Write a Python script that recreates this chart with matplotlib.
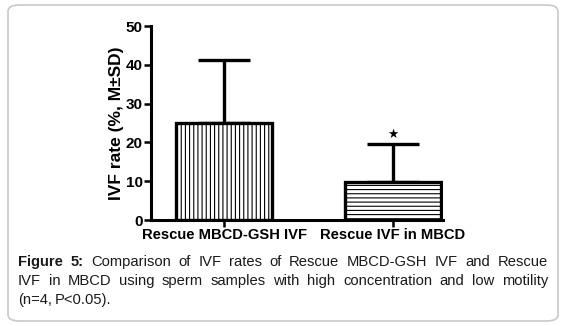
import matplotlib
matplotlib.use("Agg")
import matplotlib.pyplot as plt
from matplotlib.patches import FancyBboxPatch

##############
 # Data
##############

groups = ["Rescue MBCD-GSH IVF", "Rescue IVF in MBCD"]
ivf_rate = [25.0, 9.8]
ivf_sd = [16.2, 9.8]
hatches = ["||||", "----"]
y_ticks = [0, 10, 20, 30, 40, 50]

caption_lines = [
    [("Figure 5:", "bold"), ("Comparison of IVF rates of Rescue MBCD-GSH IVF and Rescue", "normal")],
    [("IVF in MBCD using sperm samples with high concentration and low motility", "normal")],
    [("(n=4, P<0.05).", "normal")],
]

##############
 # Figure
##############

plt.rcParams['font.family'] = ['Liberation Sans', 'DejaVu Sans']
plt.rcParams['hatch.linewidth'] = 0.8

W, H = 566, 326
fig = plt.figure(figsize=(W / 100, H / 100), dpi=100)

# rounded frame around figure + caption
frame = FancyBboxPatch((8 / W, 5 / H), 550 / W, 316 / H,
                       boxstyle="round,pad=0,rounding_size=0.02",
                       transform=fig.transFigure, facecolor='none',
                       edgecolor='#c8c8c8', linewidth=1.2, zorder=-1)
fig.patches.append(frame)

ax = fig.add_axes([151 / W, 1 - 220 / H, (443 - 151) / W, (220 - 26) / H])
ax.patch.set_alpha(0)

x = range(len(groups))
for xi, v, h in zip(x, ivf_rate, hatches):
    ax.bar(xi, v, width=0.57, color='white', edgecolor='black',
           linewidth=2.4, hatch=h, zorder=3)

ax.errorbar(list(x), ivf_rate, yerr=[[0] * len(ivf_sd), ivf_sd], fmt='none',
            ecolor='black', elinewidth=2.4, capsize=19, capthick=2.4, zorder=2)

# significance star
ax.annotate("\u2605", (1, ivf_rate[1] + ivf_sd[1]), xytext=(0, 2.5),
            textcoords='offset points', ha='center', va='bottom',
            fontsize=9, family='DejaVu Sans')

ax.set_xlim(-0.432, 1.296)
ax.set_ylim(0, 50)
ax.set_yticks(y_ticks)
ax.set_xticks(list(x))
ax.set_xticklabels(groups, fontweight='bold', fontsize=10.6)
for lab in ax.get_yticklabels():
    lab.set_fontweight('bold')
    lab.set_fontsize(11)
ax.tick_params(axis='both', length=5, width=1.8, pad=1)
ax.set_ylabel("IVF rate (%, M\u00b1SD)", fontweight='bold', fontsize=12.5, labelpad=1)

for s in ['top', 'right']:
    ax.spines[s].set_visible(False)
for s in ['left', 'bottom']:
    ax.spines[s].set_linewidth(2.2)

##############
 # Caption (justified)
##############

renderer = fig.canvas.get_renderer()
x_left, x_right = 18, 548
line_y = [262, 281, 300]
fs = 10.6

for i, (parts, yl) in enumerate(zip(caption_lines, line_y)):
    words = []
    for text, weight in parts:
        for w in text.split():
            words.append((w, weight))
    objs = []
    for w, weight in words:
        t = fig.text(0, 1 - yl / H, w, fontsize=fs, fontweight=weight,
                     va='center', ha='left', color='#1a1a1a')
        objs.append(t)
    widths = [o.get_window_extent(renderer).width for o in objs]
    if i < len(caption_lines) - 1:
        gap = (x_right - x_left - sum(widths)) / (len(objs) - 1)
    else:
        gap = 3.0
    xp = x_left
    for o, wd in zip(objs, widths):
        o.set_x(xp / W)
        xp += wd + gap

fig.savefig("out.png", dpi=100)
